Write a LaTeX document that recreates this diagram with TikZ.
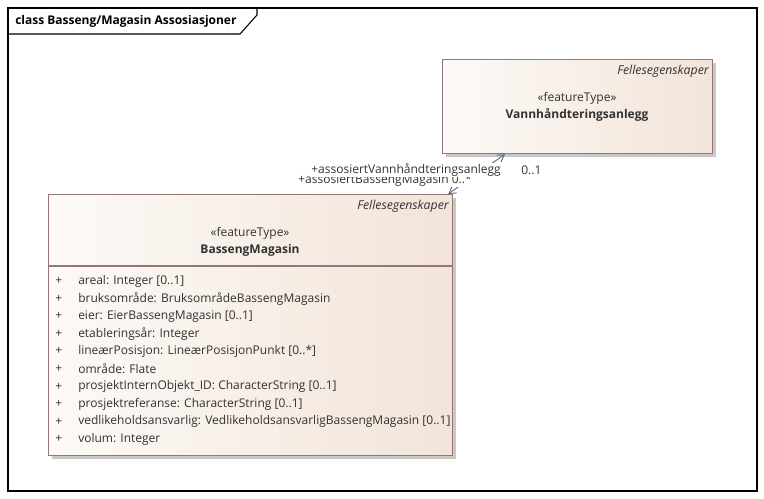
\documentclass[tikz,border=0pt]{standalone}
\usepackage{fontspec}
\setmainfont{Open Sans}
\usetikzlibrary{positioning,arrows.meta}
\definecolor{clsBorder}{RGB}{150,118,118}
\definecolor{clsLeft}{RGB}{253,250,247}
\definecolor{clsRight}{RGB}{242,228,217}
\definecolor{clsShadow}{RGB}{200,200,200}
\definecolor{assocLine}{RGB}{95,105,145}
\definecolor{textGrey}{RGB}{50,50,50}
\tikzset{
    classbox/.style={draw=clsBorder,line width=0.9pt,left color=clsLeft,right color=clsRight,
        anchor=north west,inner sep=0pt},
    shadowbox/.style={fill=clsShadow,draw=none},
    umltext/.style={inner sep=0pt,text=textGrey,font=\fontsize{9}{10.5}\selectfont},
    package/.style={umltext,anchor=north east,font=\fontsize{9.2}{10.5}\selectfont\itshape},
    attr/.style={umltext,anchor=west},
    role/.style={umltext,fill=white,inner sep=0.8pt},
    assoc/.style={draw=assocLine,line width=0.7pt,{Straight Barb[length=5pt,width=6pt]}-{Straight Barb[length=5pt,width=6pt]}},
}
\newcommand\ClassShadow[4]{%
    \fill[clsShadow] (#1+4,#2+4) rectangle (#3+4,#4+4);
}

\begin{document}
\begin{tikzpicture}[x=0.75pt,y=-0.75pt]
    \useasboundingbox (0,0) rectangle (764,499);
    % frame
    \draw[line width=0.8pt] (8,8) rectangle (757,491);
    \draw[line width=0.8pt] (8,34) -- (240,34) -- (257,15) -- (257,8);
    \node[anchor=west,inner sep=0pt,font=\fontsize{9}{10.5}\selectfont\bfseries] (title) at (15,21)
        {class Basseng/Magasin Assosiasjoner};

    % Vannhåndteringsanlegg
    \ClassShadow{442}{59}{712}{153}
    \node[classbox,minimum width=270*0.75pt,minimum height=94*0.75pt] (vha) at (442,59) {};
    \node[package] (vhaPkg) at (709,65) {Fellesegenskaper};
    \node[umltext] (vhaSt) at (577,98) {«featureType»};
    \node[umltext,font=\fontsize{9}{10.5}\selectfont\bfseries] (vhaName) at (577,115) {Vannhåndteringsanlegg};

    % BassengMagasin
    \ClassShadow{48}{194}{452}{455}
    \node[classbox,minimum width=404*0.75pt,minimum height=261*0.75pt] (bm) at (48,194) {};
    \node[package] (bmPkg) at (449,200) {Fellesegenskaper};
    \node[umltext] (bmSt) at (250,233) {«featureType»};
    \node[umltext,font=\fontsize{9}{10.5}\selectfont\bfseries] (bmName) at (250,250) {BassengMagasin};
    \draw[clsBorder,line width=0.9pt] (bm.west |- 0,266) coordinate (sepL) -- (bm.east |- 0,266) coordinate (sepR);
    \foreach \i/\txt in {0/{areal: Integer [0..1]},
        1/{bruksområde: BruksområdeBassengMagasin},
        2/{eier: EierBassengMagasin [0..1]},
        3/{etableringsår: Integer},
        4/{lineærPosisjon: LineærPosisjonPunkt [0..*]},
        5/{område: Flate},
        6/{prosjektInternObjekt\_ID: CharacterString [0..1]},
        7/{prosjektreferanse: CharacterString [0..1]},
        8/{vedlikeholdsansvarlig: VedlikeholdsansvarligBassengMagasin [0..1]},
        9/{volum: Integer}} {
        \node[attr] (plus\i) at (55,281+17.6*\i) {+};
        \node[attr] (attr\i) at (78,281+17.6*\i) {\txt};
    }

    % association
    \coordinate (bmEnd) at ([xshift=-3.75pt]bm.north east);
    \coordinate (vhaEnd) at ([xshift=47.25pt]vha.south west);
    \draw[assoc] (bmEnd) -- (vhaEnd);
    \node[role,anchor=west] (roleBm) at (297,180) {+assosiertBassengMagasin 0..*};
    \node[role,anchor=west] (roleVha) at (310,170) {+assosiertVannhåndteringsanlegg};
    \node[role,anchor=west] (multVha) at (520,170) {0..1};
\end{tikzpicture}
\end{document}
